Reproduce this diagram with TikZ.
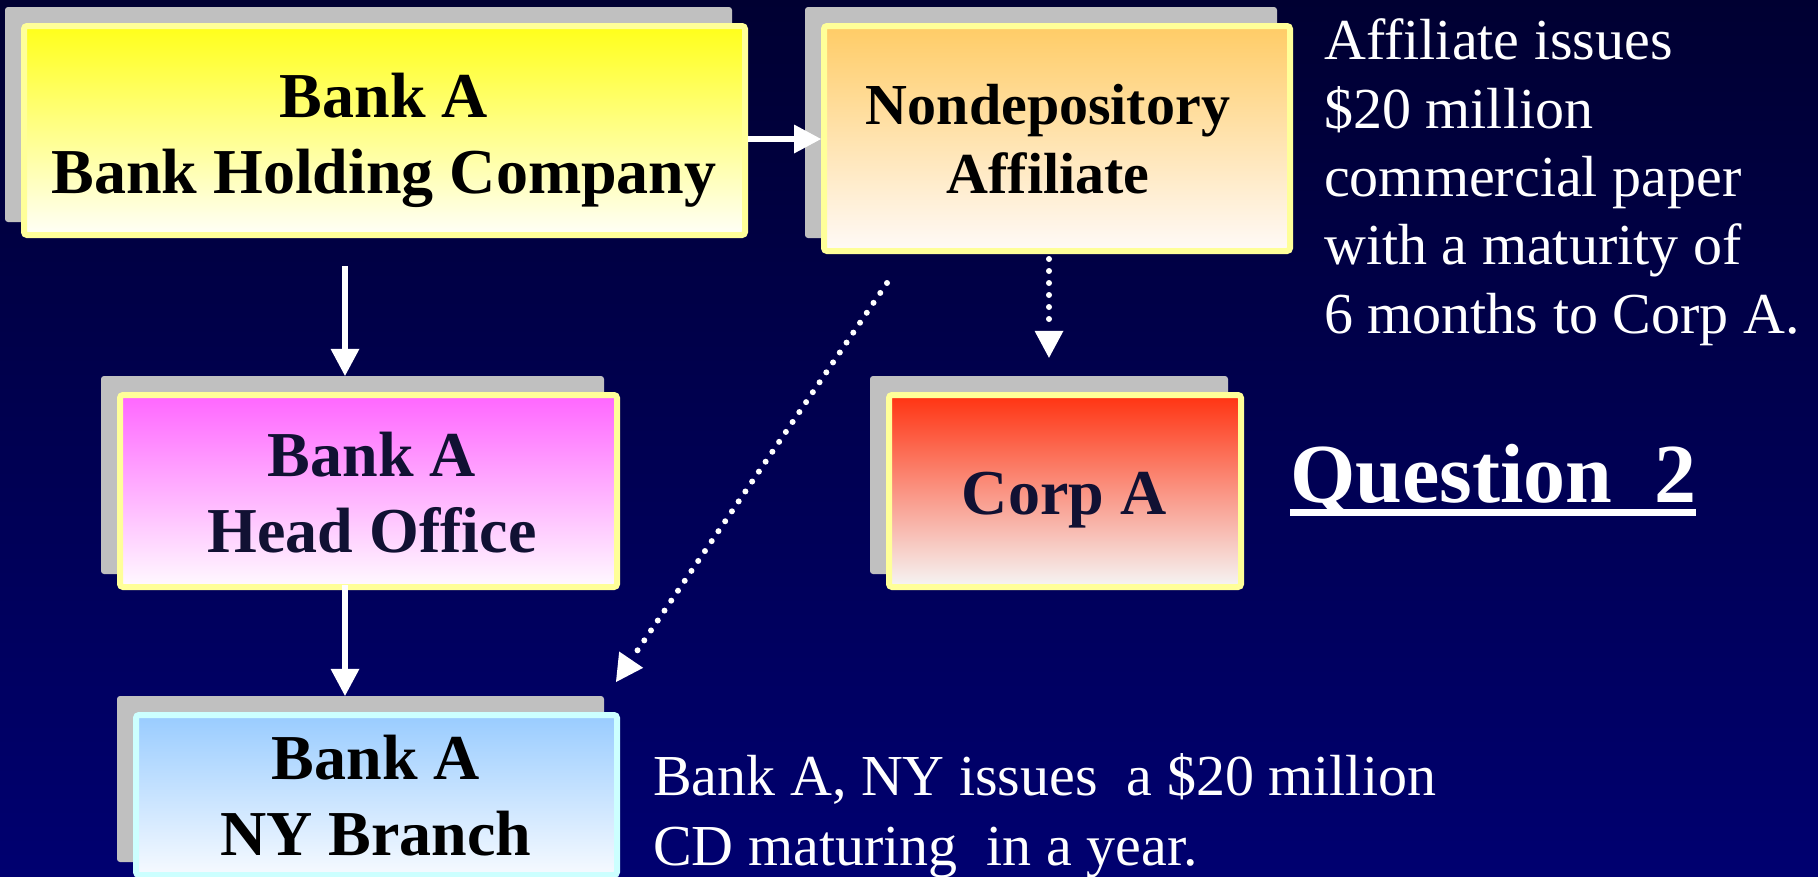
\documentclass[tikz,border=0pt]{standalone}
\usepackage{fontspec}
\setmainfont{Liberation Serif}
\usetikzlibrary{arrows.meta,calc}
\definecolor{bgtop}{RGB}{0,0,50}
\definecolor{bgbot}{RGB}{0,0,112}
\definecolor{shadowgray}{RGB}{192,192,192}
\definecolor{borderyel}{RGB}{255,255,153}
\definecolor{bordercyan}{RGB}{204,255,255}
\definecolor{navytext}{RGB}{17,17,51}
\definecolor{bhctop}{RGB}{255,255,26}
\definecolor{bhcbot}{RGB}{255,255,248}
\definecolor{afftop}{RGB}{255,204,102}
\definecolor{affbot}{RGB}{255,250,248}
\definecolor{hotop}{RGB}{255,102,255}
\definecolor{hobot}{RGB}{255,250,255}
\definecolor{corptop}{RGB}{255,51,17}
\definecolor{corpmid}{RGB}{248,170,160}
\definecolor{corpbot}{RGB}{245,245,245}
\definecolor{nytop}{RGB}{153,204,255}
\definecolor{nybot}{RGB}{246,250,255}
\begin{document}
\begin{tikzpicture}[x=1pt,y=-1pt,
  shadowbox/.style={fill=shadowgray, rounded corners=3pt, inner sep=0pt, draw=none},
  frontbox/.style={draw=borderyel, line width=6pt, rounded corners=3pt, inner sep=0pt},
  boxlabel/.style={font=\fontsize{64}{76}\selectfont\bfseries, align=center, inner sep=0pt, anchor=base},
  plaintext/.style={font=\fontsize{58}{68.3}\selectfont, text=white, align=left, inner sep=0pt, anchor=base west},
  arr/.style={draw=white, line width=6pt, -{Triangle[length=27pt,width=29pt,line width=0pt]}},
  dotarr/.style={draw=white, line width=6pt, line cap=round, dash pattern=on 0pt off 12pt, -{Triangle[length=27pt,width=29pt,line width=0pt]}},
]
\useasboundingbox (0,0) rectangle (1818,876);
\clip (0,0) rectangle (1818,876);
\shade[top color=bgtop, bottom color=bgbot] (0,0) rectangle (1818,876);

% shadows
\node[shadowbox, minimum width=727pt, minimum height=215pt] (bhcS) at (368.5,114.5) {};
\node[shadowbox, minimum width=472pt, minimum height=231pt] (affS) at (1041,122.5) {};
\node[shadowbox, minimum width=503pt, minimum height=198pt] (hoS) at (352.5,475) {};
\node[shadowbox, minimum width=358pt, minimum height=198pt] (corpS) at (1049,475) {};
\node[shadowbox, minimum width=487pt, minimum height=166pt] (nyS) at (360.5,779) {};

% front boxes
\node[frontbox, top color=bhctop, bottom color=bhcbot, minimum width=721pt, minimum height=209pt] (bhc) at (384.5,130.5) {};
\node[frontbox, top color=afftop, bottom color=affbot, minimum width=466pt, minimum height=225pt] (aff) at (1057,138.5) {};
\node[frontbox, top color=hotop, bottom color=hobot, minimum width=497pt, minimum height=192pt] (ho) at (368.5,491) {};
\node[frontbox, top color=corptop, middle color=corpmid, bottom color=corpbot, minimum width=352pt, minimum height=192pt] (corp) at (1065,491) {};
\node[frontbox, draw=bordercyan, top color=nytop, bottom color=nybot, minimum width=481pt, minimum height=160pt] (ny) at (376.5,795) {};

% box labels (anchor base = baseline of last line)
\node[boxlabel] (bhcT) at (384,193) {Bank A\\Bank Holding Company};
\node[boxlabel, font=\fontsize{58}{69}\selectfont\bfseries] (affT) at (1048,193) {Nondepository\\Affiliate};
\node[boxlabel, text=navytext] (hoT) at (372,552) {Bank A\\Head Office};
\node[boxlabel, text=navytext] (corpT) at (1064,514) {Corp A};
\node[boxlabel] (nyT) at (376,855) {Bank A\\NY Branch};

% notes
\node[plaintext] (affnote) at (1324,333) {Affiliate issues\\\$20 million\\commercial paper\\with a maturity of\\6 months to Corp A.};
\node[plaintext, font=\fontsize{58}{70}\selectfont] (nynote) at (653,865) {Bank A, NY issues\ \ a \$20 million\\CD maturing\ \ in a year.};
\node[font=\fontsize{84}{100}\selectfont\bfseries, text=white, inner sep=0pt, anchor=base west] (q) at (1290,502) {Question\ \ 2};
\draw[white, line width=7pt] ([yshift=-10.5pt]q.base west) -- ([yshift=-10.5pt]q.base east);

% connectors
\draw[arr] ([yshift=-8.5pt]bhc.east) -- ([yshift=-8.5pt]bhc.east -| aff.west);
\draw[arr] ($(bhc.south)+(-39.5,28)$) -- ($(bhc.south |- hoS.north)+(-39.5,0)$);
\draw[arr] ($(ho.south)+(-23.5,-5)$) -- ($(ho.south |- nyS.north)+(-23.5,0)$);
\draw[dotarr] ($(aff.south)+(-8,5)$) -- ($(aff.south |- corpS.north)+(-8,-18)$);
\draw[dotarr] ($(aff.south west)+(66,29)$) -- ($(ny.north east)+(-4,-30)$);
\end{tikzpicture}
\end{document}
